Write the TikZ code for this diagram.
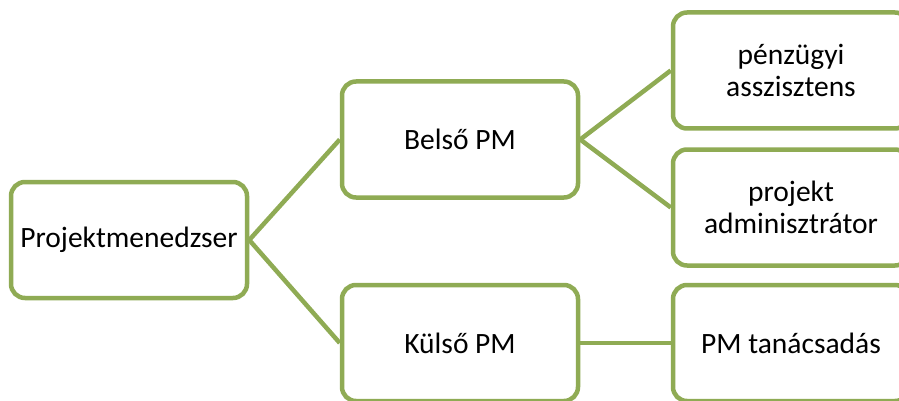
\documentclass[tikz,border=0pt]{standalone}
\usepackage{fontspec}
\setmainfont{Carlito}
\definecolor{boxgreen}{RGB}{143,171,84}
\begin{document}
\begin{tikzpicture}[x=1pt,y=-1pt,
  orgbox/.style={draw=boxgreen, line width=4.5pt, rounded corners=14pt, fill=white,
    minimum width=236pt, minimum height=116pt, align=center, font=\fontsize{29.5}{32}\selectfont,
    inner sep=0pt},
  link/.style={draw=boxgreen, line width=4.5pt}]
  \useasboundingbox (0,0) rectangle (899,401);
  \clip (0,0) rectangle (899,401);
  % tree of roles, root on the left
  \node[orgbox] (root) at (129,240) {Projektmenedzser};
  \node[orgbox] (in)   at (460,139.5) {Belső PM};
  \node[orgbox] (out)  at (460,343) {Külső PM};
  \node[orgbox] (fin)  at (791,70.5) {pénzügyi\\asszisztens};
  \node[orgbox] (adm)  at (791,207.5) {projekt\\adminisztrátor};
  \node[orgbox] (cons) at (791,343) {PM tanácsadás};
  % connectors
  \draw[link] (root.east) -- (in.west);
  \draw[link] (root.east) -- (out.west);
  \draw[link] (in.east) -- (fin.west);
  \draw[link] (in.east) -- (adm.west);
  \draw[link] (out.east) -- (cons.west);
\end{tikzpicture}
\end{document}
